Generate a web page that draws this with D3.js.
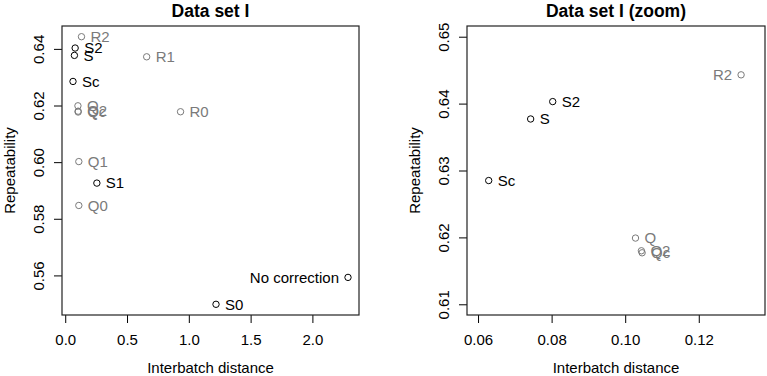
<!DOCTYPE html>
<head>
<meta charset="utf-8">
<title>Interbatch distance vs repeatability</title>
<script type="text/javascript" src="https://d3js.org/d3.v7.min.js"></script>
<style>
  body { margin: 0; background: #fff; }
  svg text { font-family: "Liberation Sans", Arial, Helvetica, sans-serif; }
</style>
</head>

<body>
<div id="container"></div>
<script>

// correction methods
const methods       = ["No correction", "S0", "S1", "S2", "S", "Sc",
                       "Q0", "Q1", "Q2", "Q", "Qc", "R0", "R1", "R2"];
const interbatch    = [2.288, 1.220, 0.256, 0.0803, 0.0743, 0.0629,
                       0.110, 0.110, 0.1044, 0.1028, 0.1046, 0.933, 0.659, 0.1315];
const repeatability = [0.5593, 0.5498, 0.5926, 0.6403, 0.6377, 0.6285,
                       0.5847, 0.6002, 0.6180, 0.6199, 0.6177, 0.6178, 0.6372, 0.6443];
// S family (and no correction) is black, Q and R families grey
const family        = ["none", "S", "S", "S", "S", "S",
                       "Q", "Q", "Q", "Q", "Q", "R", "R", "R"];

const xTicksAll  = [0, 0.5, 1.0, 1.5, 2.0];
const yTicksAll  = [0.56, 0.58, 0.60, 0.62, 0.64];
const xTicksZoom = [0.06, 0.08, 0.10, 0.12];
const yTicksZoom = [0.61, 0.62, 0.63, 0.64, 0.65];
const zoomXlim   = [0.06, 0.135];
const zoomYlim   = [0.61, 0.65];

const width = 767, height = 376;
const points = methods.map((m, i) => ({name: m, x: interbatch[i], y: repeatability[i], fam: family[i]}));
const colour = d3.scaleOrdinal().domain(["none", "S", "Q", "R"]).range(["#000", "#000", "#7a7a7a", "#7a7a7a"]);

// R style limits: extend the range by 4% each side
function pad(ext) { const d = (ext[1] - ext[0]) * 0.04; return [ext[0] - d, ext[1] + d]; }

const svg = d3.select("div#container").append("svg")
    .attr("width", width).attr("height", height)
    .attr("viewBox", [0, 0, width, height]);

function panel(opt) {
  const g = svg.append("g");
  const x = d3.scaleLinear().domain(pad(opt.xlim)).range([opt.left, opt.right]);
  const y = d3.scaleLinear().domain(pad(opt.ylim)).range([opt.bottom, opt.top]);

  g.append("g")
    .attr("transform", `translate(0,${opt.bottom})`)
    .call(d3.axisBottom(x).tickValues(opt.xticks).tickFormat(opt.xfmt).tickSize(8).tickSizeOuter(0))
    .call(a => a.select(".domain").remove())
    .call(a => a.selectAll(".tick line").attr("stroke", "#000"))
    .call(a => a.selectAll(".tick text").attr("y", 30).attr("dy", 0)
        .attr("font-size", 15).attr("fill", "#000"));

  g.append("g")
    .attr("transform", `translate(${opt.left},0)`)
    .call(d3.axisLeft(y).tickValues(opt.yticks).tickFormat(d3.format(".2f")).tickSize(8).tickSizeOuter(0))
    .call(a => a.select(".domain").remove())
    .call(a => a.selectAll(".tick line").attr("stroke", "#000"))
    .call(a => a.selectAll(".tick text").attr("transform", "rotate(-90)")
        .attr("x", 0).attr("y", -18.5).attr("dy", 0).attr("text-anchor", "middle")
        .attr("font-size", 15).attr("fill", "#000"));

  g.append("rect")
    .attr("x", opt.left).attr("y", opt.top)
    .attr("width", opt.right - opt.left).attr("height", opt.bottom - opt.top)
    .attr("fill", "none").attr("stroke", "#222").attr("stroke-width", 1.2);

  g.append("text")
    .attr("x", (opt.left + opt.right) / 2).attr("y", 17)
    .attr("text-anchor", "middle").attr("font-size", 17.5).attr("font-weight", "bold")
    .text(opt.title);

  g.append("text")
    .attr("x", (opt.left + opt.right) / 2).attr("y", 373)
    .attr("text-anchor", "middle").attr("font-size", 15)
    .text("Interbatch distance");

  g.append("text")
    .attr("transform", `translate(${opt.left - 47},${(opt.top + opt.bottom) / 2}) rotate(-90)`)
    .attr("text-anchor", "middle").attr("font-size", 15)
    .text("Repeatability");

  const [x0, x1] = x.domain(), [y0, y1] = y.domain();
  const shown = points.filter(d => d.x >= x0 && d.x <= x1 && d.y >= y0 && d.y <= y1);

  g.append("g").selectAll("circle").data(shown).join("circle")
    .attr("cx", d => x(d.x)).attr("cy", d => y(d.y)).attr("r", 3.2)
    .attr("fill", "none").attr("stroke-width", 1)
    .attr("stroke", d => colour(d.fam));

  g.append("g").selectAll("text").data(shown).join("text")
    .attr("x", d => opt.leftLabels.includes(d.name) ? x(d.x) - 9 : x(d.x) + 9)
    .attr("y", d => y(d.y)).attr("dy", "0.35em")
    .attr("text-anchor", d => opt.leftLabels.includes(d.name) ? "end" : "start")
    .attr("font-size", 15)
    .attr("fill", d => colour(d.fam))
    .text(d => d.name);
}

panel({title: "Data set I", left: 62, right: 359, top: 26, bottom: 315,
       xlim: d3.extent(interbatch), ylim: d3.extent(repeatability),
       xticks: xTicksAll, yticks: yTicksAll, xfmt: d3.format(".1f"),
       leftLabels: ["No correction"]});

panel({title: "Data set I (zoom)", left: 467, right: 765, top: 26, bottom: 315,
       xlim: zoomXlim, ylim: zoomYlim,
       xticks: xTicksZoom, yticks: yTicksZoom, xfmt: d3.format(".2f"),
       leftLabels: ["R2"]});

</script>
</body>
